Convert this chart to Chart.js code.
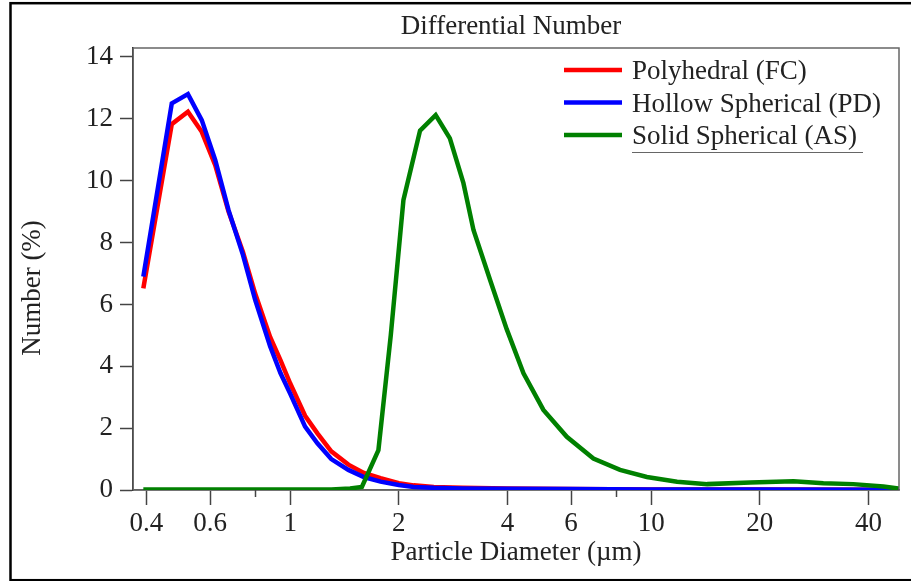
<!DOCTYPE html>
<html>
<head>
<meta charset="utf-8">
<script src="https://cdn.jsdelivr.net/npm/chart.js@4"></script>
<style>
  html, body { margin: 0; padding: 0; background: #fff; }
</style>
</head>
<body>
<canvas id="chart" width="911" height="581"></canvas>
<script>
// --- DATA ---
const seriesNames = ["Polyhedral (FC)", "Hollow Spherical (PD)", "Solid Spherical (AS)"];
const seriesColors = ["#ff0000", "#0000ff", "#008000"];

// diameters (µm) for the two fine powders
const fineDiam = [0.392, 0.47, 0.521, 0.569, 0.62, 0.675, 0.74, 0.8, 0.88, 0.94, 1.0, 1.1, 1.19, 1.3, 1.45, 1.6, 1.78, 2.0, 2.2, 2.5, 3.0, 4.0, 6.0, 10, 20, 48.4];
const polyNum   = [6.52, 11.83, 12.23, 11.58, 10.5, 9.0, 7.7, 6.35, 4.95, 4.2, 3.45, 2.4, 1.83, 1.25, 0.82, 0.55, 0.38, 0.22, 0.15, 0.1, 0.07, 0.05, 0.03, 0.02, 0.02, 0.01];
const hollowNum = [6.9, 12.5, 12.8, 11.96, 10.67, 9.05, 7.6, 6.15, 4.65, 3.78, 3.12, 2.05, 1.51, 1.0, 0.65, 0.42, 0.27, 0.16, 0.1, 0.07, 0.05, 0.04, 0.03, 0.02, 0.02, 0.01];

// diameters (µm) for the solid spherical powder
const solidDiam = [0.392, 0.6, 1.0, 1.3, 1.466, 1.58, 1.756, 1.9, 2.06, 2.29, 2.53, 2.77, 3.02, 3.22, 3.58, 3.98, 4.43, 5.03, 5.84, 6.92, 8.2, 9.73, 11.8, 14.3, 18.8, 24.8, 30, 36.3, 44, 48.4];
const solidNum  = [0.02, 0.02, 0.02, 0.02, 0.05, 0.1, 1.29, 5.0, 9.38, 11.62, 12.12, 11.37, 9.92, 8.41, 6.79, 5.2, 3.77, 2.59, 1.72, 1.02, 0.65, 0.42, 0.27, 0.19, 0.24, 0.28, 0.22, 0.19, 0.11, 0.05];

const xTicks = [0.4, 0.6, 1, 2, 4, 6, 10, 20, 40];
const xTickLabels = ["0.4", "0.6", "1", "2", "4", "6", "10", "20", "40"];
const xMinorTicks = [0.8, 8];
const yTicks = [0, 2, 4, 6, 8, 10, 12, 14];

const pts = (xs, ys) => xs.map((x, i) => ({ x: x, y: ys[i] }));

Chart.defaults.font.family = '"Liberation Serif", "Times New Roman", serif';
Chart.defaults.font.size = 27;
Chart.defaults.color = '#222';

// frame, titles, legend and minor ticks
const decorPlugin = {
    id: 'decor',
    beforeDatasetsDraw(chart) {
        const { ctx, chartArea: a } = chart;
        ctx.save();
        ctx.strokeStyle = '#666';
        ctx.lineWidth = 1.5;
        ctx.strokeRect(a.left, a.top, a.right - a.left, a.bottom - a.top);
        ctx.restore();
    },
    afterDraw(chart) {
        const { ctx, chartArea: a } = chart;
        const xs = chart.scales.x;
        ctx.save();

        // minor ticks
        ctx.strokeStyle = '#444';
        ctx.lineWidth = 1.5;
        xMinorTicks.forEach(v => {
            const px = Math.round(xs.getPixelForValue(v)) + 0.5;
            ctx.beginPath();
            ctx.moveTo(px, a.bottom);
            ctx.lineTo(px, a.bottom + 7);
            ctx.stroke();
        });

        // title
        ctx.fillStyle = '#222';
        ctx.font = '27px "Liberation Serif", "Times New Roman", serif';
        ctx.textAlign = 'center';
        ctx.textBaseline = 'alphabetic';
        ctx.fillText('Differential Number', 511, 34);

        // y title
        ctx.save();
        ctx.translate(40, 288);
        ctx.rotate(-Math.PI / 2);
        ctx.fillText('Number (%)', 0, 0);
        ctx.restore();

        // legend
        const rows = [70, 102.5, 135];
        ctx.textAlign = 'left';
        rows.forEach((y, i) => {
            ctx.strokeStyle = seriesColors[i];
            ctx.lineWidth = 4.5;
            ctx.beginPath();
            ctx.moveTo(564, y);
            ctx.lineTo(622, y);
            ctx.stroke();
            ctx.fillText(seriesNames[i], 632, y + 9);
        });
        ctx.strokeStyle = '#666';
        ctx.lineWidth = 1;
        ctx.beginPath();
        ctx.moveTo(632, 152.5);
        ctx.lineTo(863, 152.5);
        ctx.stroke();

        // outer frame
        ctx.strokeStyle = '#000';
        ctx.lineWidth = 2.5;
        ctx.strokeRect(10.5, 3.2, 1000, 577);
        ctx.restore();
    }
};

const makeSet = (i, data, order) => ({
    label: seriesNames[i],
    data: data,
    borderColor: seriesColors[i],
    backgroundColor: seriesColors[i],
    borderWidth: 4.5,
    pointRadius: 0,
    tension: 0,
    order: order
});

new Chart(document.getElementById('chart'), {
    type: 'line',
    data: {
        datasets: [
            makeSet(0, pts(fineDiam, polyNum), 3),
            makeSet(1, pts(fineDiam, hollowNum), 2),
            makeSet(2, pts(solidDiam, solidNum), 1)
        ]
    },
    options: {
        responsive: false,
        animation: false,
        layout: { padding: { left: 0, top: 48, right: 12, bottom: 0 } },
        plugins: {
            legend: { display: false },
            tooltip: { enabled: false }
        },
        scales: {
            x: {
                type: 'logarithmic',
                min: 0.367,
                max: 48.6,
                afterBuildTicks: s => { s.ticks = xTicks.map(v => ({ value: v })); },
                afterFit: s => { s.height = 91; },
                ticks: {
                    autoSkip: false,
                    maxRotation: 0,
                    padding: 3,
                    color: '#222',
                    callback: (v, i) => xTickLabels[i]
                },
                grid: { drawOnChartArea: false, tickLength: 15, tickColor: '#444', tickWidth: 1.5 },
                border: { color: '#555', width: 1.5 },
                title: {
                    display: true,
                    text: 'Particle Diameter (µm)',
                    color: '#222',
                    padding: { top: 0, bottom: 12 }
                }
            },
            y: {
                min: 0,
                max: 14.29,
                afterBuildTicks: s => { s.ticks = yTicks.map(v => ({ value: v })); },
                afterFit: s => { s.width = 133; },
                ticks: { padding: 7, color: '#222' },
                grid: { drawOnChartArea: false, tickLength: 13, tickColor: '#444', tickWidth: 1.5 },
                border: { color: '#000', width: 1.5 }
            }
        }
    },
    plugins: [decorPlugin]
});
</script>
</body>
</html>
